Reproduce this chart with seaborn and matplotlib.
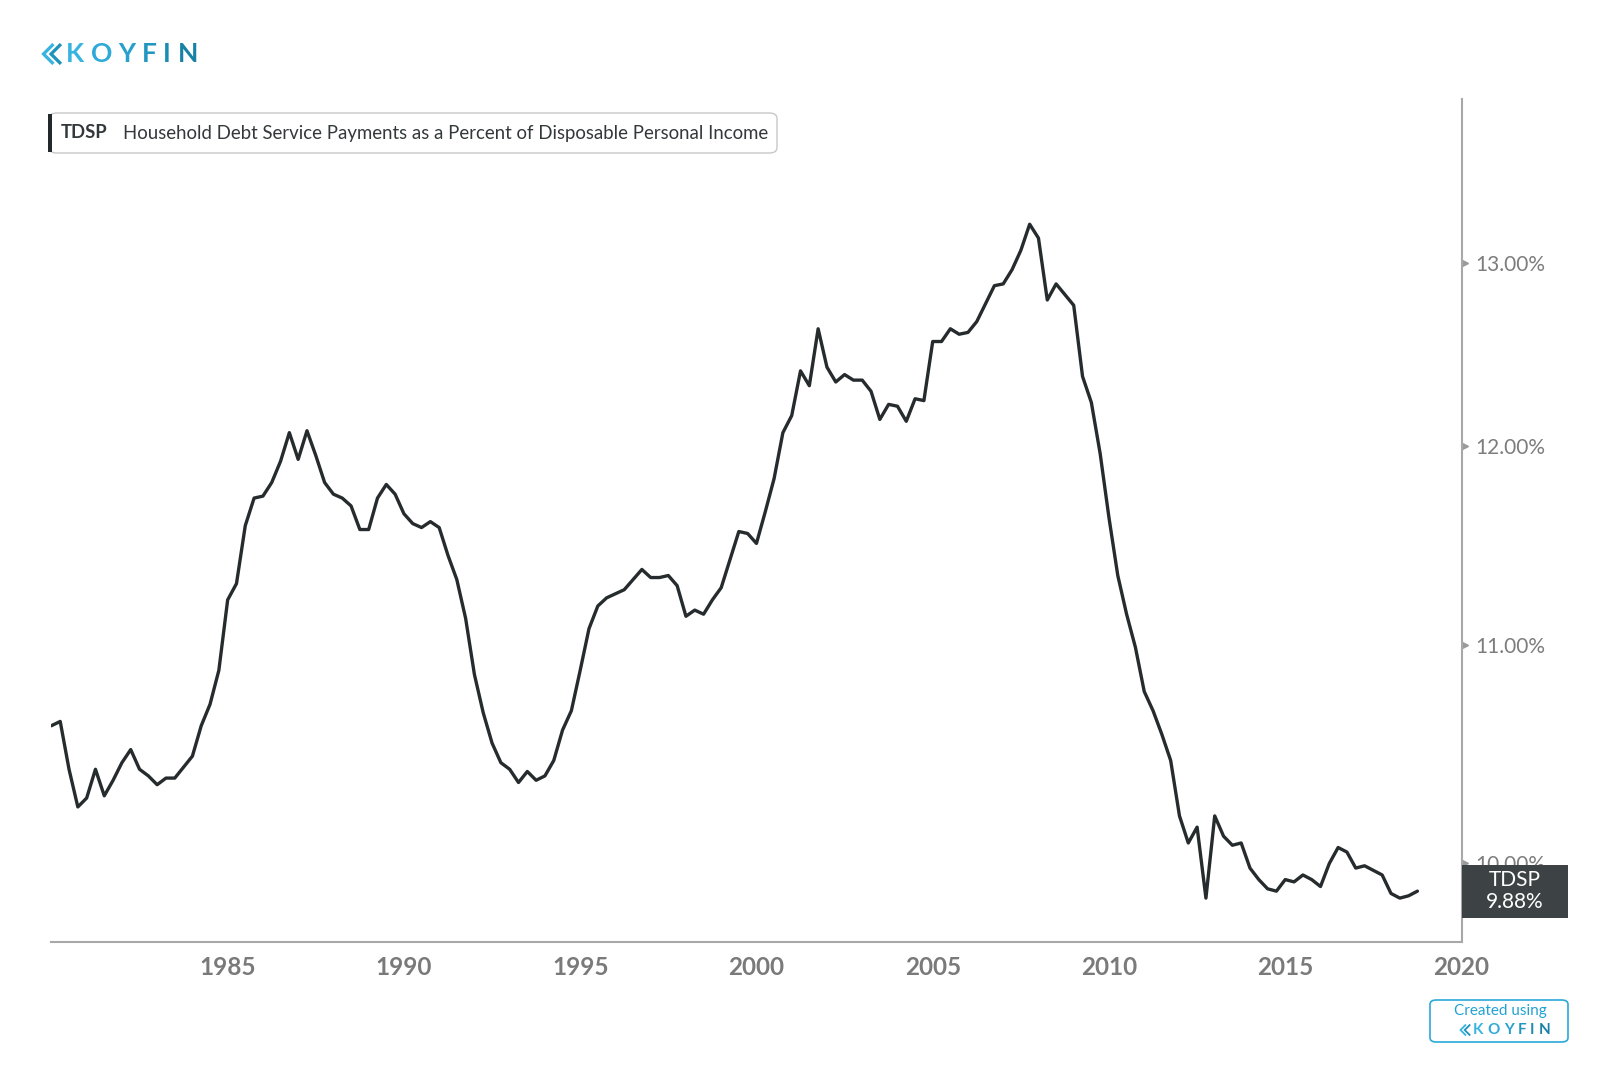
import pandas as pd
import matplotlib
matplotlib.use("Agg")
import matplotlib.pyplot as plt
import matplotlib.transforms as mtransforms
from matplotlib.patches import FancyBboxPatch, Rectangle
from matplotlib.lines import Line2D
from matplotlib.ticker import FixedLocator, NullLocator, FuncFormatter
import seaborn as sns

# TDSP, quarterly from 1980 Q1 (percent)
tdsp_1980s = [10.62, 10.64, 10.42, 10.25, 10.29, 10.42, 10.30, 10.37, 10.45, 10.51,
              10.42, 10.39, 10.35, 10.38, 10.38, 10.43, 10.48, 10.62, 10.72, 10.88,
              11.22, 11.30, 11.59, 11.73, 11.74, 11.81, 11.92, 12.07, 11.93, 12.08,
              11.95, 11.81, 11.75, 11.73, 11.69, 11.57, 11.57, 11.73, 11.80, 11.75]
tdsp_1990s = [11.65, 11.60, 11.58, 11.61, 11.58, 11.44, 11.32, 11.13, 10.86, 10.68,
              10.54, 10.45, 10.42, 10.36, 10.41, 10.37, 10.39, 10.46, 10.60, 10.69,
              10.88, 11.08, 11.19, 11.23, 11.25, 11.27, 11.32, 11.37, 11.33, 11.33,
              11.34, 11.29, 11.14, 11.17, 11.15, 11.22, 11.28, 11.42, 11.56, 11.55]
tdsp_2000s = [11.50, 11.66, 11.83, 12.07, 12.16, 12.40, 12.32, 12.63, 12.42, 12.34,
              12.38, 12.35, 12.35, 12.29, 12.14, 12.22, 12.21, 12.13, 12.25, 12.24,
              12.56, 12.56, 12.63, 12.60, 12.61, 12.67, 12.77, 12.87, 12.88, 12.96,
              13.07, 13.22, 13.14, 12.79, 12.88, 12.82, 12.76, 12.37, 12.23, 11.96]
tdsp_2010s = [11.63, 11.34, 11.15, 10.99, 10.78, 10.69, 10.58, 10.46, 10.21, 10.09,
              10.16, 9.85, 10.21, 10.12, 10.08, 10.09, 9.98, 9.93, 9.89, 9.88,
              9.93, 9.92, 9.95, 9.93, 9.90, 10.00, 10.07, 10.05, 9.98, 9.99,
              9.97, 9.95, 9.87, 9.85, 9.86, 9.88]

x_ticks = [1985, 1990, 1995, 2000, 2005, 2010, 2015, 2020]
y_ticks = [10, 11, 12, 13]
ticker = "TDSP"
title = "Household Debt Service Payments as a Percent of Disposable Personal Income"

values = tdsp_1980s + tdsp_1990s + tdsp_2000s + tdsp_2010s
dates = pd.date_range("1980-01-01", periods=len(values), freq="QS")
df = pd.DataFrame({"year": dates.year + (dates.month - 1) / 12, "tdsp": values})

sns.set_style("white")
plt.rcParams["font.family"] = ["Lato", "DejaVu Sans"]

W, H = 1600, 1067
fig = plt.figure(figsize=(16, 10.67), dpi=100)
renderer = fig.canvas.get_renderer()


def fx(px):
    return px / W


def fy(py):
    return 1 - py / H


# main axes
ax = fig.add_axes([fx(51.4), fy(942), fx(1461.5) - fx(51.4), fy(99.5) - fy(942)])
sns.lineplot(data=df, x="year", y="tdsp", ax=ax, color="#262b2d", linewidth=2.4, legend=False)
ax.set_yscale("log")
ax.set_xlim(1980, 2020)
ax.set_ylim(9.663, 13.96)
ax.set_xlabel("")
ax.set_ylabel("")

ax.yaxis.tick_right()
ax.yaxis.set_major_locator(FixedLocator(y_ticks))
ax.yaxis.set_minor_locator(NullLocator())
ax.yaxis.set_major_formatter(FuncFormatter(lambda v, p: f"{v:.2f}%"))
ax.tick_params(axis="y", length=0, pad=10, labelsize=15, labelcolor="#7d7d7d")

ax.set_xticks(x_ticks)
ax.set_xticklabels([str(t) for t in x_ticks], fontweight="bold")
ax.tick_params(axis="x", length=6, width=1.2, color="#aaaaaa", pad=4,
               labelsize=17.5, labelcolor="#7a7a7a")

sns.despine(ax=ax, left=True, top=True, right=False, bottom=False)
for side in ["right", "bottom"]:
    ax.spines[side].set_color("#a8a8a8")
    ax.spines[side].set_linewidth(1.5)
ax.grid(False)

# little triangle tick marks on the right axis
tri = mtransforms.offset_copy(ax.get_yaxis_transform(), fig=fig, x=3, y=0, units="dots")
ax.plot([1] * len(y_ticks), y_ticks, ls="none", marker=">", ms=5,
        color="#9a9a9a", transform=tri, clip_on=False)

# last value tag
last = values[-1]
yc = ax.transData.transform((df["year"].iloc[-1], last))[1]
fig.patches.append(Rectangle((fx(1461.5), (yc - 26.5) / H), 106 / W, 53 / H,
                             transform=fig.transFigure, facecolor="#3d4345",
                             edgecolor="none", zorder=5))
fig.text(fx(1515), yc / H, f"{ticker}\n{last:.2f}%", color="white", fontsize=15,
         ha="center", va="center", linespacing=1.15, zorder=6)

# title box
fig.patches.append(FancyBboxPatch((fx(49), fy(153)), fx(777) - fx(49), fy(113) - fy(153),
                                  boxstyle="round,pad=0,rounding_size=0.005",
                                  transform=fig.transFigure, facecolor="white",
                                  edgecolor="#c8c8c8", linewidth=1.0))
fig.patches.append(Rectangle((fx(48), fy(152)), 3.5 / W, 38 / H, transform=fig.transFigure,
                             facecolor="#23282a", edgecolor="none"))
fig.text(fx(61), fy(133), ticker, fontsize=13.3, fontweight="bold", color="#33393b",
         ha="left", va="center")
fig.text(fx(123), fy(133), title, fontsize=13.4, color="#33393b", ha="left", va="center")

# koyfin logo
koy_colors = ["#37b4e0", "#2eaad8", "#27a0cd", "#2196c0", "#1c8cb3", "#1882a6"]


def logo(x0, y0, size, track, mark):
    # spaced wordmark: constant gap between letters
    x = x0
    for i, ch in enumerate("KOYFIN"):
        t = fig.text(fx(x), fy(y0), ch, fontsize=size, fontweight="bold",
                     color=koy_colors[i], ha="left", va="center")
        x += t.get_window_extent(renderer).width + track
    # double chevron mark
    left = x0 - mark * 1.25
    for dx, col in [(0, "#37b4e0"), (mark * 0.42, "#1f92bb")]:
        fig.lines.append(Line2D([fx(left + mark * 0.55 + dx), fx(left + dx),
                                 fx(left + mark * 0.55 + dx)],
                                [fy(y0 - mark * 0.55), fy(y0), fy(y0 + mark * 0.55)],
                                transform=fig.transFigure, color=col,
                                linewidth=mark * 0.13, solid_joinstyle="miter",
                                solid_capstyle="butt"))


logo(66, 54, 19, 6.5, 18)

# created using badge, bottom right
fig.patches.append(FancyBboxPatch((fx(1430), fy(1042)), fx(1568) - fx(1430), fy(1000) - fy(1042),
                                  boxstyle="round,pad=0,rounding_size=0.004",
                                  transform=fig.transFigure, facecolor="white",
                                  edgecolor="#2aa9d9", linewidth=1.2))
fig.text(fx(1500), fy(1011), "Created using", fontsize=11, color="#22a2d2",
         ha="center", va="center")
logo(1473, 1030, 11, 4.0, 10)

fig.savefig("out.png", dpi=100)
